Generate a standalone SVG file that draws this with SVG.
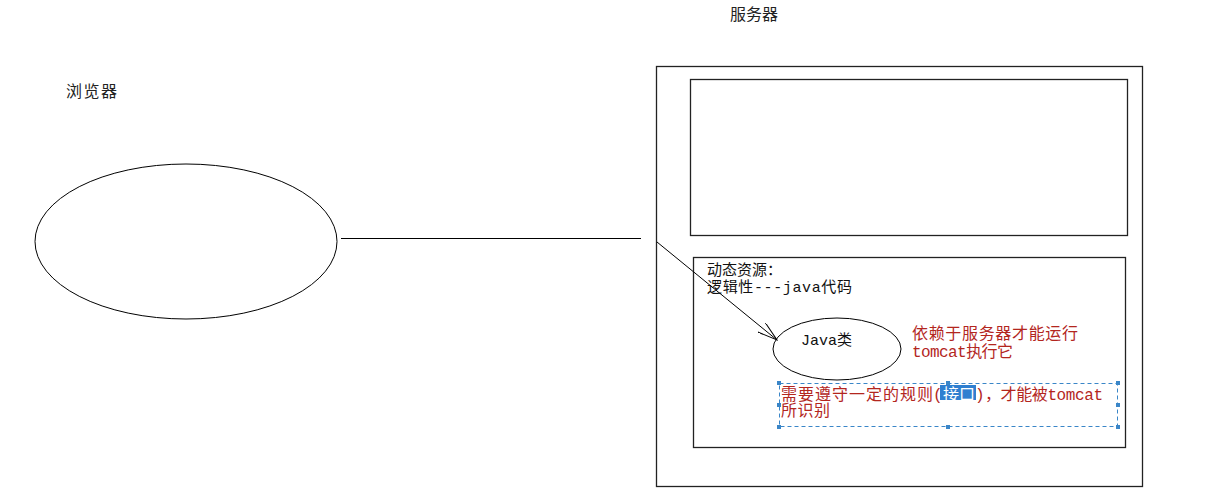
<svg xmlns="http://www.w3.org/2000/svg" width="1227" height="504" viewBox="0 0 1227 504">
<defs>
<style>
.ln{fill:none;stroke:#000;stroke-width:1}
.box{fill:none;stroke:#222;stroke-width:1.3}
.t{font-family:"Noto Sans CJK SC","Liberation Sans",sans-serif;font-size:16px;fill:#222}
.m{font-family:"Liberation Mono","Noto Sans CJK SC",monospace;font-size:15px;fill:#111}
.r{font-family:"Liberation Mono","Noto Sans CJK SC",monospace;font-size:16px;fill:#b3261e}
.sel{fill:none;stroke:#3a86c8;stroke-width:1;stroke-dasharray:4 3}
.h{fill:#3a86c8}
</style>
<marker id="arr" viewBox="0 0 21 12" refX="20" refY="6" markerWidth="21" markerHeight="12" orient="auto" markerUnits="userSpaceOnUse">
<path d="M0,0 L20,6 L0,12" fill="none" stroke="#000" stroke-width="1"/>
</marker>
</defs>
<rect width="1227" height="504" fill="#fff"/>
<g id="browser">
<text class="t" x="66" y="97" textLength="51">浏览器</text>
<ellipse class="ln" cx="186" cy="241.5" rx="151" ry="77.5"/>
</g>
<g id="server">
<text class="t" x="730" y="20" textLength="48">服务器</text>
<rect class="box" x="656.5" y="66.5" width="486" height="420"/>
</g>
<g id="static">
<rect class="box" x="690.5" y="79.5" width="437" height="156"/>
</g>
<g id="dynamic">
<rect class="box" x="693.5" y="257.5" width="432" height="190"/>
<text class="m" x="707" y="275" textLength="75">动态资源：</text>
<text class="m" x="707" y="292" textLength="145">逻辑性---java代码</text>
</g>
<g id="javaclass">
<ellipse class="ln" cx="837" cy="349" rx="64" ry="31"/>
<text class="m" x="801" y="345" textLength="51">Java类</text>
</g>
<g id="note1">
<text class="r" x="912" y="339" textLength="166">依赖于服务器才能运行</text>
<text class="r" x="912" y="357" textLength="101">tomcat执行它</text>
</g>
<g id="note2">
<rect class="sel" x="779.5" y="383.5" width="338" height="43"/>
<rect class="h" x="777" y="381" width="4" height="4"/>
<rect class="h" x="946" y="381" width="4" height="4"/>
<rect class="h" x="1116" y="381" width="4" height="4"/>
<rect class="h" x="777" y="403" width="4" height="4"/>
<rect class="h" x="1116" y="403" width="4" height="4"/>
<rect class="h" x="777" y="425" width="4" height="4"/>
<rect class="h" x="946" y="425" width="4" height="4"/>
<rect class="h" x="1116" y="425" width="4" height="4"/>
<rect x="940" y="385" width="36" height="15" fill="#2f7fd0"/>
<text class="r" y="400"><tspan x="781" textLength="152">需要遵守一定的规则</tspan><tspan x="933">(</tspan><tspan x="943" textLength="32" fill="#fff">接口</tspan><tspan x="975">)</tspan><tspan x="985" textLength="118">，才能被tomcat</tspan></text>
<text class="r" x="781" y="416" textLength="49">所识别</text>
</g>
<g id="connectors">
<line class="ln" x1="341" y1="238.5" x2="641" y2="238.5"/>
<line class="ln" x1="657" y1="242" x2="777" y2="340" marker-end="url(#arr)"/>
</g>
</svg>
